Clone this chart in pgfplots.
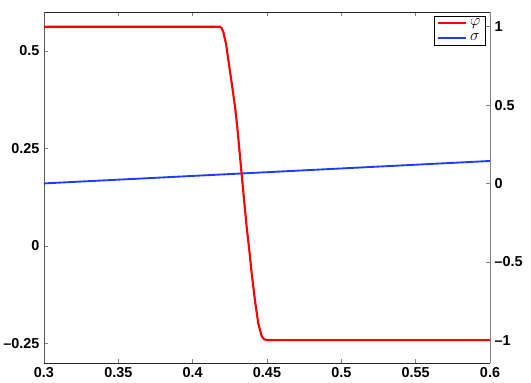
\documentclass[border=0pt]{standalone}
\usepackage{fontspec}
\setmainfont{Liberation Sans}
\usepackage{pgfplots}
\pgfplotsset{compat=1.18}
\definecolor{phiRed}{RGB}{255,0,0}
\definecolor{sigBlue}{RGB}{30,60,255}
\definecolor{axGray}{RGB}{128,128,128}

\begin{document}
\begin{tikzpicture}
% page size of the reference: 531x382 px at 0.75pt/px
\path[use as bounding box] (-33pt,-14.25pt) rectangle ++(398.25pt,286.5pt);
\pgfplotsset{
  every axis/.append style={
    at={(0,0)}, anchor=south west,
    scale only axis, width=334.5pt, height=263.25pt,
    xmin=0.3, xmax=0.6,
    tick align=inside,
    major tick length=3pt,
    tick style={axGray, thin},
    ticklabel style={font=\bfseries\fontsize{10.8}{12}\selectfont},
  },
}
\begin{axis}[
    ymin=-0.3, ymax=0.6,
    axis x line=box,
    axis y line*=left,
    x axis line style={black!85, -},
    y axis line style={gray!70!black, -},
    xtick={0.3,0.35,0.4,0.45,0.5,0.55,0.6},
    xticklabels={0.3,0.35,0.4,0.45,0.5,0.55,0.6},
    ytick={-0.25,0,0.25,0.5},
    yticklabels={–0.25,0,0.25,0.5},
]
\addplot[color=sigBlue, line width=1.4pt] coordinates {
    (0.30,0.1605)
    (0.60,0.2180)
};
\end{axis}
\begin{axis}[
    ymin=-1.146, ymax=1.094,
    axis x line=none,
    axis y line*=right,
    y axis line style={axGray, -},
    ytick={-1,-0.5,0,0.5,1},
    yticklabels={–1,–0.5,0,0.5,1},
    legend image code/.code={\draw[#1] (0cm,0cm) -- (0.75cm,0cm);},
    legend style={at={(1,1)}, anchor=north east, xshift=-3pt, yshift=-3pt,
        draw=black, inner xsep=2pt, inner ysep=0pt, row sep=0.5pt,
        font=\fontsize{13}{13}\selectfont},
    legend cell align=left,
]
\addplot[color=phiRed, line width=1.6pt] coordinates {
    (0.3000,1)
    (0.4184,1)
    (0.4195,0.992)
    (0.4206,0.967)
    (0.4224,0.893)
    (0.4240,0.787)
    (0.4263,0.638)
    (0.4285,0.489)
    (0.4300,0.361)
    (0.4330,0.053)
    (0.4363,-0.277)
    (0.4381,-0.426)
    (0.4397,-0.574)
    (0.4419,-0.745)
    (0.4441,-0.893)
    (0.4464,-0.974)
    (0.4480,-0.994)
    (0.4500,-1)
    (0.6000,-1)
};
\addlegendentry{$\varphi$}
\addlegendimage{color=sigBlue, line width=1.4pt}
\addlegendentry{$\sigma$}
\end{axis}
\end{tikzpicture}
\end{document}
